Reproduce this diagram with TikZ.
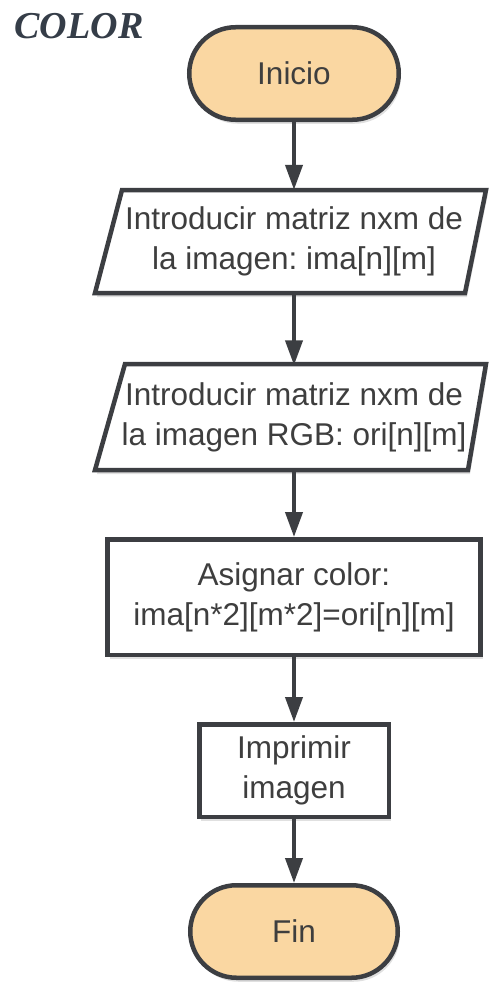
\documentclass[tikz,border=0pt]{standalone}
\usepackage{fontspec}
\setmainfont{Liberation Sans}
\newfontfamily\titlefont{Liberation Serif}
\usetikzlibrary{arrows.meta,shadows}
\frenchspacing
\definecolor{edge}{HTML}{3C3E42}
\definecolor{ink}{HTML}{3E3E3E}
\definecolor{termfill}{HTML}{FAD7A2}
\definecolor{titleink}{HTML}{353D48}
\tikzset{
  body/.style={font=\fontsize{31.5}{40}\selectfont, text=ink, align=center, inner sep=0pt},
  softshadow/.style={drop shadow={shadow xshift=2pt, shadow yshift=-4pt, opacity=0.12, fill=black}},
  terminal/.style={body, draw=edge, line width=4.5pt, fill=termfill, rounded corners=46.25pt,
    minimum width=209.5pt, minimum height=92.5pt, softshadow},
  process/.style={body, draw=edge, line width=4.5pt, fill=white, softshadow},
  iobox/.style={body, minimum height=103pt},
  ioshape/.style={draw=edge, line width=4.5pt, fill=white, line join=miter, softshadow},
  flow/.style={draw=edge, line width=4pt, -{Triangle[width=17pt,length=25pt]}}
}
\begin{document}
\begin{tikzpicture}[x=1pt, y=-1pt]
  \useasboundingbox[fill=white] (0,0) rectangle (488,982);

  % title
  \node[font=\titlefont\bfseries\itshape\fontsize{38}{40}\selectfont, text=titleink, inner sep=0pt]
    (title) at (79,26) {COLOR};

  % start
  \node[terminal] (start) at (294,73.5) {Inicio};

  % first input: image matrix
  \draw[ioshape] (122,190) -- (486,190) -- (465,293) -- (95,293) -- cycle;
  \node[iobox] (in1) at (294,241.5) {Introducir matriz nxm de\\la imagen: ima[n][m]};

  % second input: RGB matrix
  \draw[ioshape] (125,364) -- (486,364) -- (468,470) -- (95,470) -- cycle;
  \node[iobox] (in2) at (294,417) {Introducir matriz nxm de\\la imagen RGB: ori[n][m]};

  % colour assignment
  \node[process, minimum width=373pt, minimum height=115.5pt] (asg) at (294,597)
    {Asignar color:\\ima[n*2][m*2]=ori[n][m]};

  % output
  \node[process, minimum width=189.5pt, minimum height=92.5pt] (out) at (294,770.5)
    {Imprimir\\imagen};

  % end
  \node[terminal, minimum width=207.5pt] (stop) at (294,931.5) {Fin};

  % connectors
  \draw[flow] (start.south) -- (in1.north);
  \draw[flow] (in1.south) -- (in2.north);
  \draw[flow] (in2.south) -- (asg.north);
  \draw[flow] (asg.south) -- (out.north);
  \draw[flow] (out.south) -- (stop.north);
\end{tikzpicture}
\end{document}
